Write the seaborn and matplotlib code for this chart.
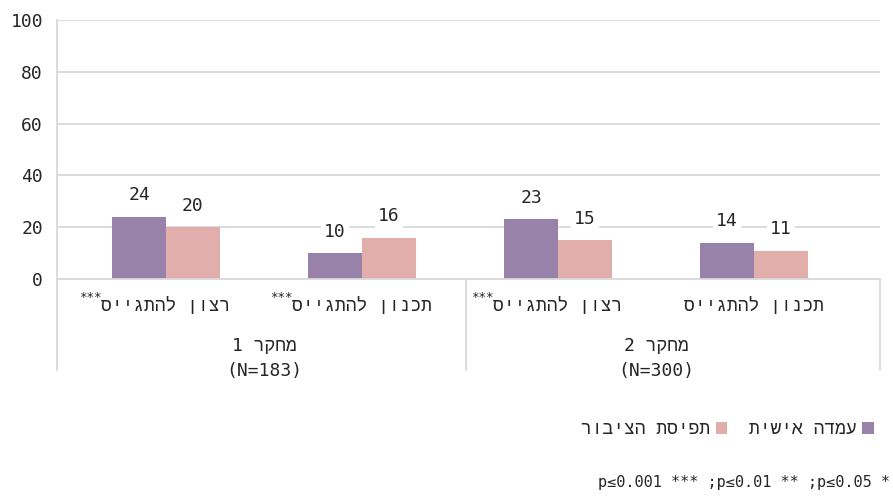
import numpy as np
import pandas as pd
import seaborn as sns
import matplotlib.pyplot as plt
import matplotlib.transforms as mtransforms
from matplotlib.patches import Patch

# Data
items = ["רצון להתגייס", "תכנון להתגייס", "רצון להתגייס", "תכנון להתגייס"]
item_stars = ["***", "***", "***", ""]
studies = ["מחקר 1", "מחקר 2"]
study_n = ["(N=183)", "(N=300)"]
series_names = ["עמדה אישית", "תפיסת הציבור"]
personal = [24, 10, 23, 14]
public = [20, 16, 15, 11]
footnote = "p≤0.001 *** ;p≤0.01 ** ;p≤0.05 *"

colors = ["#9882a9", "#e2aeac"]
grid_col = "#d9d9d9"
text_col = "#262626"


def rtl(s):
    # matplotlib has no bidi support, so reverse Hebrew runs by hand
    return s[::-1]


def rtl_study(s):
    word, num = s.split(" ")
    return num + " " + rtl(word)


sns.set_theme(style="white")
plt.rcParams['font.family'] = ['DejaVu Sans Mono', 'Liberation Mono', 'DejaVu Sans']

keys = [str(i) for i in range(len(items))]
df = pd.DataFrame({
    "key": keys * 2,
    "value": personal + public,
    "series": [series_names[0]] * len(keys) + [series_names[1]] * len(keys),
})

fig = plt.figure(figsize=(8.93, 5.01), dpi=100)
ax = fig.add_axes([57 / 893, 1 - 279 / 501, (880 - 57) / 893, 259 / 501])

sns.barplot(data=df, x="key", y="value", hue="series", order=keys,
            hue_order=series_names, palette=colors, width=0.55,
            saturation=1, linewidth=0, legend=False, ax=ax)

ax.set_xlim(-0.556, 3.643)
ax.set_ylim(0, 100)
ax.set_yticks(range(0, 101, 20))
ax.yaxis.grid(True, color=grid_col, lw=1.3)
ax.set_axisbelow(True)
for s in ["top", "right"]:
    ax.spines[s].set_visible(False)
for s in ["left", "bottom"]:
    ax.spines[s].set_color(grid_col)
    ax.spines[s].set_linewidth(1.3)
ax.set_xticks([])
ax.set_xlabel("")
ax.set_ylabel("")
ax.tick_params(axis="y", length=0, pad=10, labelsize=13, labelcolor=text_col)

# value labels above bars
for container in ax.containers:
    for bar in container:
        h = bar.get_height()
        ax.annotate(f"{h:.0f}", xy=(bar.get_x() + bar.get_width() / 2, h),
                    xytext=(0, 9), textcoords="offset points",
                    ha="center", va="bottom", fontsize=13, color=text_col,
                    bbox=dict(boxstyle="square,pad=0.15", fc="white", ec="none"))

# category axis (multi-level)
trans = mtransforms.blended_transform_factory(ax.transData, ax.transAxes)
ax_h = 259.0
for i, (item, st) in enumerate(zip(items, item_stars)):
    t = ax.text(i, -(306 - 279) / ax_h, rtl(item), transform=trans,
                ha="center", va="center", fontsize=13, color=text_col)
    if st:
        # stars sit at the left (logical end of the RTL label), raised
        ax.annotate(st, xy=(0, 1.0), xycoords=t, ha="right", va="center",
                    fontsize=9, color=text_col)

for g, (study, n) in enumerate(zip(studies, study_n)):
    xc = 2 * g + 0.5
    ax.text(xc, -(346 - 279) / ax_h, rtl_study(study), transform=trans,
            ha="center", va="center", fontsize=13, color=text_col)
    ax.text(xc, -(371 - 279) / ax_h, n, transform=trans,
            ha="center", va="center", fontsize=13, color=text_col)

sep_bottom = -(370 - 279) / ax_h
for xs in [-0.556, 1.53, 3.643]:
    ax.plot([xs, xs], [0, sep_bottom], transform=trans, color=grid_col,
            lw=1.3, clip_on=False)

# legend, right-to-left
handles = [Patch(facecolor=colors[1], edgecolor="none", label=rtl(series_names[1])),
           Patch(facecolor=colors[0], edgecolor="none", label=rtl(series_names[0]))]
fig.legend(handles=handles, loc="center right", bbox_to_anchor=(890 / 893, 1 - 429 / 501),
           ncol=2, frameon=False, markerfirst=False, fontsize=13,
           handlelength=0.65, handleheight=0.65, handletextpad=0.3,
           columnspacing=1.2, labelcolor=text_col)

fig.text(890 / 893, 1 - 483 / 501, footnote, ha="right", va="center",
         fontsize=11, color=text_col)

fig.savefig("out.png", dpi=100)
